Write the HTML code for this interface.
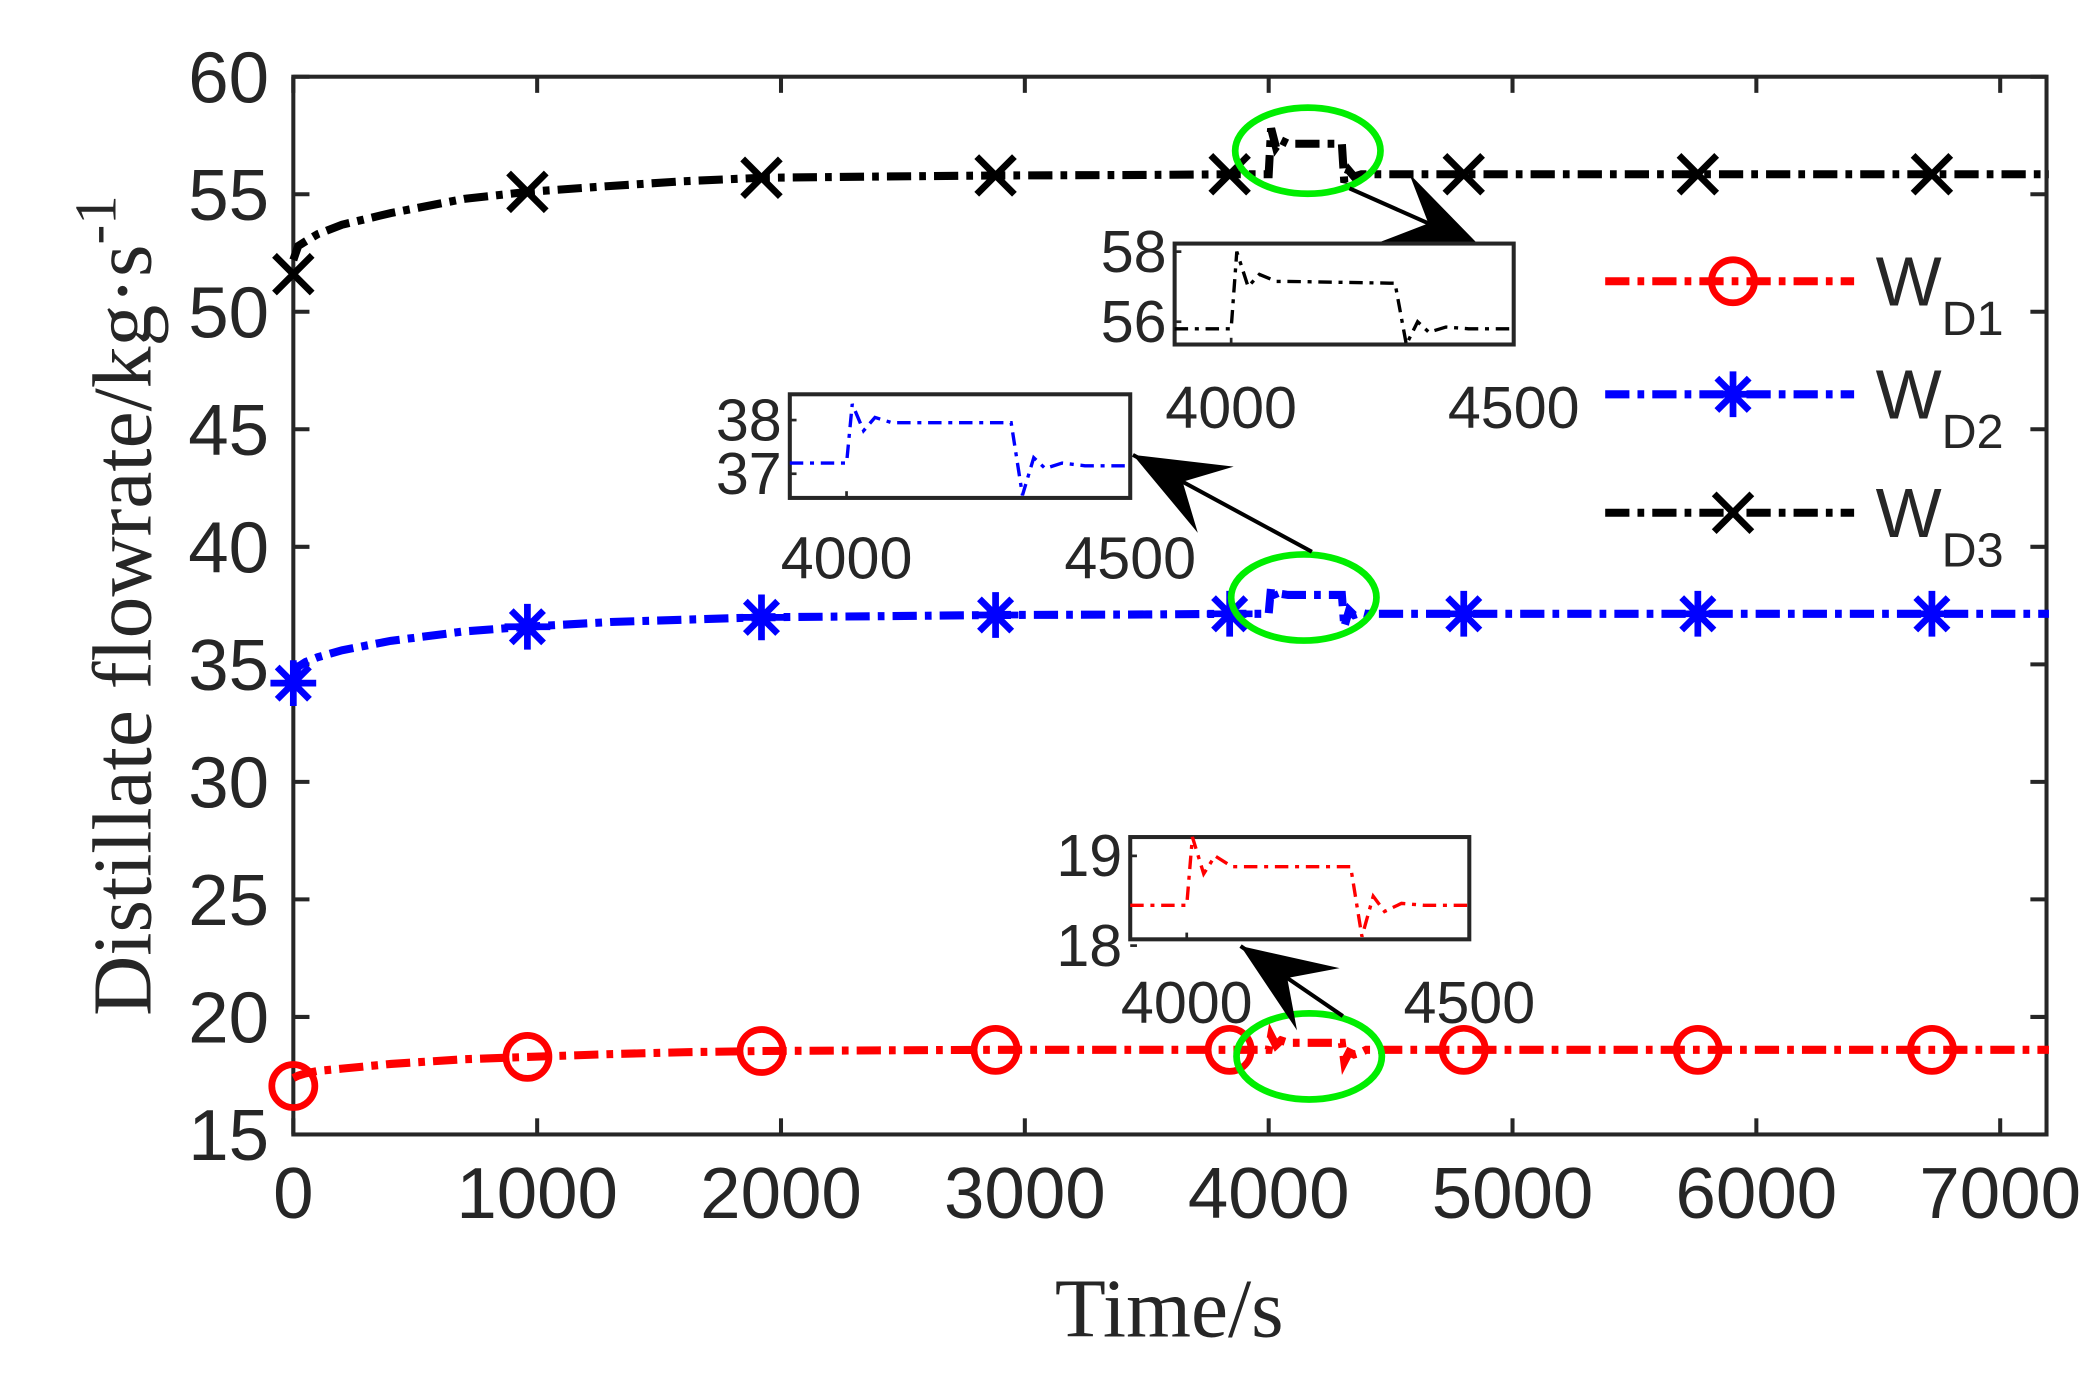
<!DOCTYPE html>
<html><head><meta charset="utf-8"><style>html,body{margin:0;padding:0;background:#fff}svg{display:block}</style></head>
<body>
<svg id="chart" xmlns="http://www.w3.org/2000/svg" width="2099" height="1374" viewBox="0 0 1560 1021" preserveAspectRatio="none">
<rect width="1560" height="1021" fill="#fff"/>
<g id="plot"></g>
</svg>
<script>
const times=[0,20,50,100,200,400,700,960,1300,1600,1920,2400,2880,3500,3840,4000,4010,4030,4050,4080,4100,4300,4310,4330,4350,4380,4400,4800,5760,6720,7200];
const wd1=[17.4,17.5,17.6,17.7,17.8,18.0,18.2,18.3,18.42,18.5,18.55,18.58,18.6,18.6,18.6,18.6,19.2,18.8,19.0,18.9,18.9,18.9,18.1,18.5,18.4,18.5,18.6,18.6,18.6,18.6,18.6];
const wd2=[34.4,34.9,35.1,35.3,35.6,36.0,36.4,36.6,36.8,36.9,37.0,37.05,37.1,37.12,37.15,37.15,38.3,37.8,38.0,37.95,37.95,37.95,36.6,37.3,37.1,37.2,37.15,37.15,37.15,37.15,37.15];
const wd3=[52.2,52.8,53.0,53.3,53.7,54.2,54.8,55.1,55.35,55.55,55.7,55.75,55.8,55.82,55.85,55.85,57.8,57.0,57.3,57.15,57.15,57.15,55.5,56.0,55.75,55.85,55.85,55.85,55.85,55.85,55.85];
const markerTimes=[0,960,1920,2880,3840,4800,5760,6720];
const m1=[17.06,18.3,18.55,18.6,18.6,18.6,18.6,18.6];
const m2=[34.2,36.6,37.0,37.1,37.15,37.15,37.15,37.15];
const m3=[51.6,55.1,55.7,55.8,55.85,55.85,55.85,55.85];
const xTicks=[0,1000,2000,3000,4000,5000,6000,7000];
const yTicks=[15,20,25,30,35,40,45,50,55,60];
const insetTimes=[3900,3990,4000,4010,4030,4050,4080,4100,4280,4290,4310,4330,4350,4380,4420,4500];
const in1=[18.45,18.45,18.45,19.25,18.8,19.0,18.88,18.88,18.88,18.88,18.1,18.55,18.38,18.47,18.45,18.45];
const in2=[37.2,37.2,37.2,38.3,37.8,38.05,37.95,37.95,37.95,37.95,36.6,37.3,37.1,37.2,37.15,37.15];
const in3=[55.8,55.8,55.8,58.0,57.0,57.35,57.15,57.15,57.1,57.1,55.3,56.0,55.7,55.85,55.8,55.8];

const NS='http://www.w3.org/2000/svg';
const g=document.getElementById('plot');
const L=218,R=1521,T=57,B=843;
const xS=t=>L+(t-0)/7190*(R-L);
const yS=v=>B-(v-15)/45*(B-T);
function el(tag,attrs,parent){const e=document.createElementNS(NS,tag);for(const k in attrs)e.setAttribute(k,attrs[k]);(parent||g).appendChild(e);return e;}
function txt(s,x,y,size,anchor,parent,fam){const e=el('text',{x:x,y:y,'font-size':size,'text-anchor':anchor||'middle','font-family':fam||'Liberation Sans, sans-serif',fill:'#262626'},parent);e.textContent=s;return e;}
const DASH='18,6,5,6';
function line(ts,vs,xf,yf,color,w,name){
  const p=ts.map((t,i)=>xf(t).toFixed(1)+','+yf(vs[i]).toFixed(1)).join(' ');
  const e=el('polyline',{points:p,fill:'none',stroke:color,'stroke-width':w,'stroke-dasharray':DASH});
  
  
}
function marker(type,x,y,color,name){
  const mg=el('g',{stroke:color,fill:'none','stroke-width':5});
  
  
  if(type==='o'){el('circle',{cx:x,cy:y,r:16},mg);}
  else if(type==='x'){const r=14;el('path',{d:`M${x-r},${y-r}L${x+r},${y+r}M${x-r},${y+r}L${x+r},${y-r}`},mg);}
  else {const r=17;el('path',{d:`M${x-r},${y}L${x+r},${y}M${x},${y-r}L${x},${y+r}M${x-12},${y-12}L${x+12},${y+12}M${x-12},${y+12}L${x+12},${y-12}`},mg);}
}
const fr=el('rect',{x:L,y:T,width:R-L,height:B-T,fill:'none',stroke:'#262626','stroke-width':3});

xTicks.forEach(t=>{const x=xS(t);el('line',{x1:x,y1:B,x2:x,y2:B-12,stroke:'#262626','stroke-width':3});el('line',{x1:x,y1:T,x2:x,y2:T+12,stroke:'#262626','stroke-width':3});
  const e=txt(String(t),x,905,54);});
yTicks.forEach(v=>{const y=yS(v);el('line',{x1:L,y1:y,x2:L+12,y2:y,stroke:'#262626','stroke-width':3});el('line',{x1:R,y1:y,x2:R-12,y2:y,stroke:'#262626','stroke-width':3});
  const e=txt(String(v),200,y+19,54,'end');});
let e=txt('Time/s',869,993,62,'middle',g,'Liberation Serif, serif');
e=el('text',{transform:'translate(112,450) rotate(-90)','font-size':62,'text-anchor':'middle','font-family':'Liberation Serif, serif',fill:'#262626'});
e.innerHTML='Distillate flowrate/kg·s<tspan dy="-26" font-size="44">-1</tspan>';


line(times,wd3,xS,yS,'#000',6,'wd3-line');
line(times,wd2,xS,yS,'#0000ff',6,'wd2-line');
line(times,wd1,xS,yS,'#ff0000',6,'wd1-line');
markerTimes.forEach((t,i)=>{marker('o',xS(t),yS(m1[i]),'#ff0000','wd1-marker');marker('*',xS(t),yS(m2[i]),'#0000ff','wd2-marker');marker('x',xS(t),yS(m3[i]),'#000','wd3-marker');});

function ell(cx,cy,name){const e=el('ellipse',{cx:cx,cy:cy,rx:54,ry:32,fill:'none',stroke:'#00ee00','stroke-width':5});}
ell(972,112,'wd3-highlight');ell(969,444,'wd2-highlight');ell(973,785,'wd1-highlight');
function arrow(x1,y1,x2,y2,name){const ag=el('g',{});
  el('line',{x1:x1,y1:y1,x2:x2,y2:y2,stroke:'#000','stroke-width':3},ag);
  const a=Math.atan2(y2-y1,x2-x1),l=70,w=28;const bx=x2-l*Math.cos(a),by=y2-l*Math.sin(a);
  el('path',{d:`M${x2},${y2}L${bx+w*Math.sin(a)},${by-w*Math.cos(a)}L${x2-0.6*l*Math.cos(a)},${y2-0.6*l*Math.sin(a)}L${bx-w*Math.sin(a)},${by+w*Math.cos(a)}Z`,fill:'#000'},ag);}
arrow(1003,140,1100,183,'wd3-arrow');arrow(975,410,842,338,'wd2-arrow');arrow(998,755,922,703,'wd1-arrow');

function inset(bx,by,bw,bh,ymin,ymax,yt,vals,color,name,xlY){
  const ig=el('g',{});
  const ix=t=>bx+(t-3900)/600*bw, iy=v=>by+bh-(v-ymin)/(ymax-ymin)*bh;
  el('rect',{x:bx,y:by,width:bw,height:bh,fill:'#fff',stroke:'#262626','stroke-width':3},ig);
  const p=insetTimes.map((t,i)=>ix(t).toFixed(1)+','+Math.max(by,Math.min(by+bh,iy(vals[i]))).toFixed(1)).join(' ');
  el('polyline',{points:p,fill:'none',stroke:color,'stroke-width':2.5,'stroke-dasharray':'10,5,3,5'},ig);
  [4000,4500].forEach(t=>{el('line',{x1:ix(t),y1:by+bh,x2:ix(t),y2:by+bh-5,stroke:'#262626','stroke-width':2},ig);txt(String(t),ix(t),xlY,44,'middle',ig);});
  yt.forEach(v=>{el('line',{x1:bx,y1:iy(v),x2:bx+5,y2:iy(v),stroke:'#262626','stroke-width':2},ig);txt(String(v),bx-6,iy(v)+15,44,'end',ig);});
}
inset(873,181,252,75,55.35,58.23,[56,58],in3,'#000','wd3-inset',318);
inset(587,293,253,77,36.55,38.48,[37,38],in2,'#0000ff','wd2-inset',430);
inset(840,622,252,76,18.07,19.21,[18,19],in1,'#ff0000','wd1-inset',760);

function leg(y,type,color,sub,name){const lg=el('g',{});
  el('line',{x1:1193,y1:y,x2:1378,y2:y,stroke:color,'stroke-width':6,'stroke-dasharray':DASH},lg);
  marker(type,1288,y,color,name+'-marker');
  const t=el('text',{x:1394,y:y+18,'font-size':52,'font-family':'Liberation Sans, sans-serif',fill:'#262626'},lg);
  t.innerHTML='W<tspan dy="22" font-size="36">'+sub+'</tspan>';}
leg(209,'o','#ff0000','D1','legend-wd1');leg(293,'*','#0000ff','D2','legend-wd2');leg(381,'x','#000','D3','legend-wd3');
</script>
</body></html>
